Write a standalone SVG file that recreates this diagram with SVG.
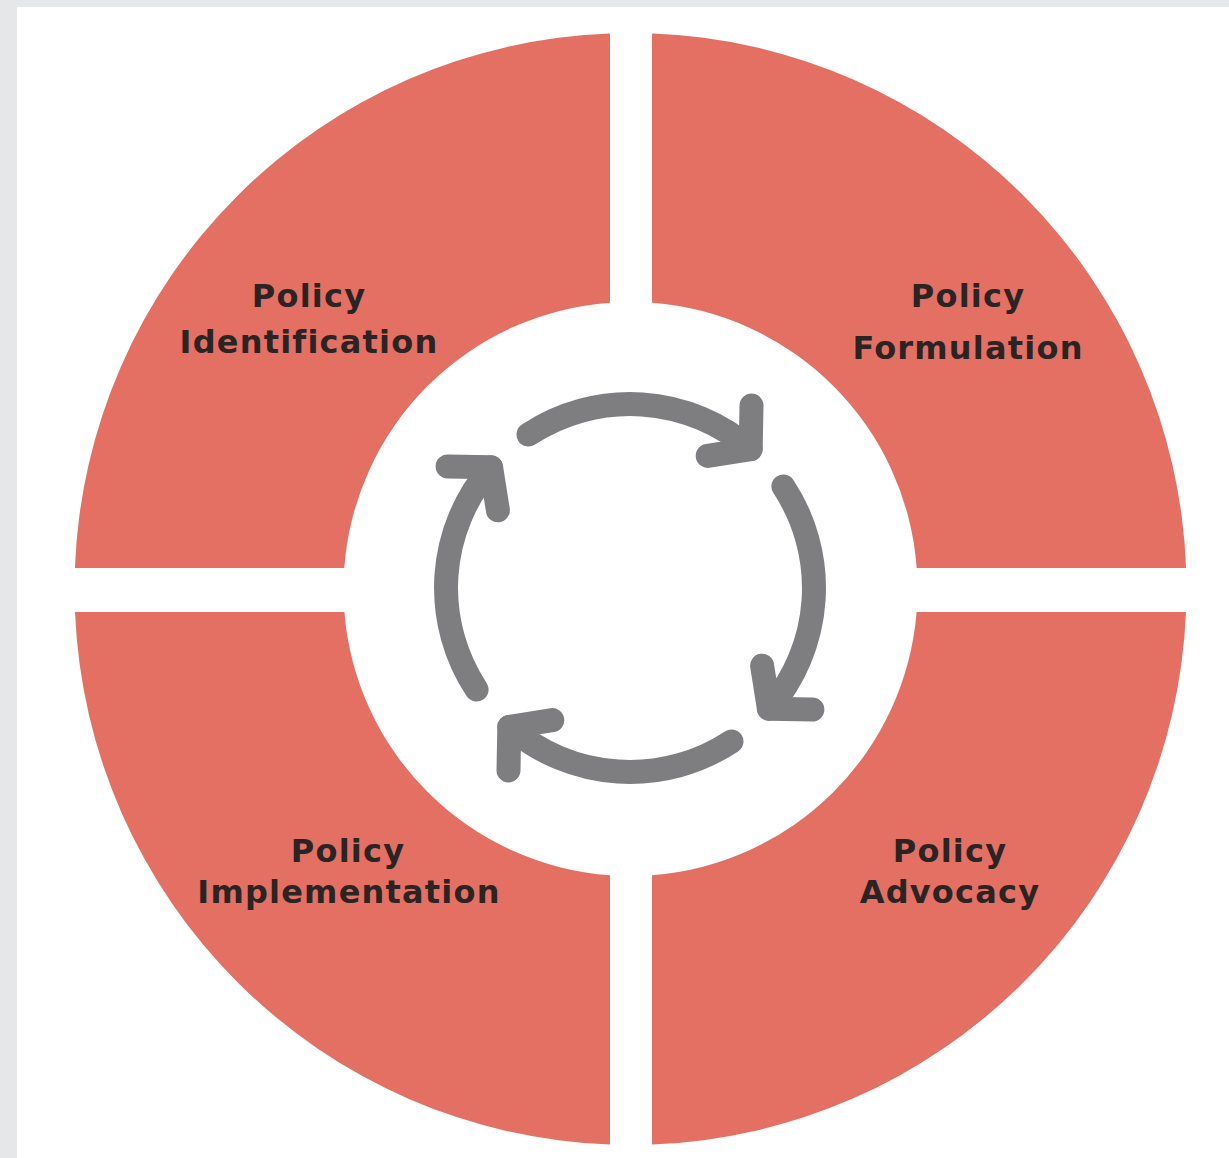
<svg xmlns="http://www.w3.org/2000/svg" xmlns:xlink="http://www.w3.org/1999/xlink" width="1229" height="1158" viewBox="0 0 1229 1158">
  <style>
    .quad { fill: #e47064; }
    .label { font-family: "DejaVu Sans", "Liberation Sans", sans-serif; font-weight: bold; font-size: 32px; letter-spacing: 1.2px; fill: #2b2424; text-anchor: middle; }
    .cyc { fill: none; stroke: #7e7e81; stroke-width: 24; stroke-linecap: round; stroke-linejoin: round; }
  </style>
  <defs>
    <g id="cycle-arrow">
      <path class="cyc" d="M 528.5 434.6 A 184 184 0 0 1 750.7 449.1"/>
      <polyline class="cyc" points="751.5,405.6 750.7,449.1 707.7,455.9"/>
    </g>
  </defs>

  <rect x="0" y="0" width="1229" height="1158" fill="#e6e7e9"/>
  <rect x="17" y="7" width="1212" height="1151" fill="#ffffff"/>

  <g id="policy-identification">
    <path class="quad" d="M 610 33.4 A 556 556 0 0 0 74.9 568 L 344.3 568 A 287 287 0 0 1 610 302.7 Z"/>
    <text class="label" x="309" y="307">Policy</text>
    <text class="label" x="309" y="353">Identification</text>
  </g>

  <g id="policy-formulation">
    <path class="quad" d="M 652 33.4 A 556 556 0 0 1 1186.1 568 L 916.7 568 A 287 287 0 0 0 652 302.8 Z"/>
    <text class="label" x="968" y="307">Policy</text>
    <text class="label" x="968" y="359">Formulation</text>
  </g>

  <g id="policy-implementation">
    <path class="quad" d="M 75 612 A 556 556 0 0 0 610 1144.6 L 610 875.3 A 287 287 0 0 1 344.4 612 Z"/>
    <text class="label" x="348" y="862">Policy</text>
    <text class="label" x="349" y="903">Implementation</text>
  </g>

  <g id="policy-advocacy">
    <path class="quad" d="M 652 1144.6 A 556 556 0 0 0 1186 612 L 916.6 612 A 287 287 0 0 1 652 875.2 Z"/>
    <text class="label" x="950" y="862">Policy</text>
    <text class="label" x="950" y="903">Advocacy</text>
  </g>

  <g id="connectors">
    <use xlink:href="#cycle-arrow"/>
    <use xlink:href="#cycle-arrow" transform="rotate(90 630 588)"/>
    <use xlink:href="#cycle-arrow" transform="rotate(180 630 588)"/>
    <use xlink:href="#cycle-arrow" transform="rotate(270 630 588)"/>
  </g>
</svg>
